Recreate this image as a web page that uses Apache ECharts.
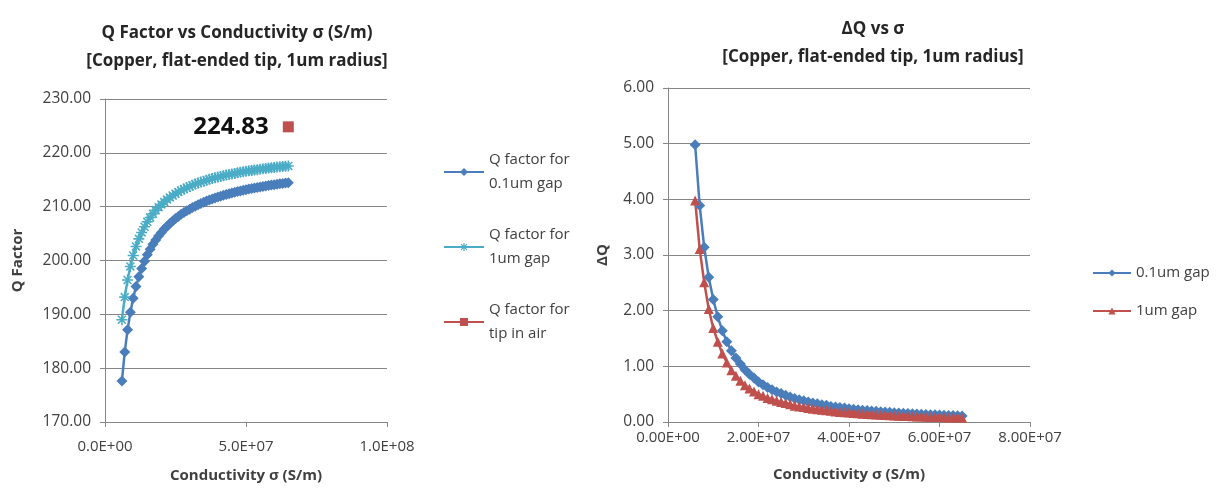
<!DOCTYPE html>
<html>
<head>
<meta charset="utf-8">
<script src="https://cdn.jsdelivr.net/npm/echarts@6/dist/echarts.min.js"></script>
<style>
  html, body { margin: 0; padding: 0; background: #fff; }
  #chart { width: 1227px; height: 488px; }
</style>
</head>
<body>
<div id="chart"></div>
<script>
// conductivity sweep (S/m), shared by both charts
const sigma = [6e6, 7e6, 8e6, 9e6, 10e6, 11e6, 12e6, 13e6, 14e6, 15e6,
    16e6, 17e6, 18e6, 19e6, 20e6, 21e6, 22e6, 23e6, 24e6, 25e6,
    26e6, 27e6, 28e6, 29e6, 30e6, 31e6, 32e6, 33e6, 34e6, 35e6,
    36e6, 37e6, 38e6, 39e6, 40e6, 41e6, 42e6, 43e6, 44e6, 45e6,
    46e6, 47e6, 48e6, 49e6, 50e6, 51e6, 52e6, 53e6, 54e6, 55e6,
    56e6, 57e6, 58e6, 59e6, 60e6, 61e6, 62e6, 63e6, 64e6, 65e6]

// left chart: Q factor
const qGap01 = [177.60, 183.01, 187.12, 190.37, 192.99, 195.16, 196.98, 198.53, 199.88, 201.05,
    202.08, 203.00, 203.82, 204.56, 205.22, 205.83, 206.38, 206.89, 207.36, 207.79,
    208.19, 208.57, 208.91, 209.24, 209.54, 209.83, 210.10, 210.35, 210.59, 210.81,
    211.03, 211.23, 211.42, 211.61, 211.78, 211.95, 212.10, 212.26, 212.40, 212.54,
    212.67, 212.80, 212.93, 213.04, 213.16, 213.27, 213.37, 213.47, 213.57, 213.67,
    213.76, 213.85, 213.93, 214.01, 214.09, 214.17, 214.25, 214.32, 214.39, 214.46]
const qGap1 = [189.00, 193.20, 196.38, 198.90, 200.93, 202.61, 204.02, 205.22, 206.27, 207.18,
    207.98, 208.69, 209.32, 209.90, 210.41, 210.88, 211.31, 211.70, 212.07, 212.40,
    212.71, 213.01, 213.27, 213.52, 213.76, 213.98, 214.19, 214.38, 214.57, 214.74,
    214.91, 215.07, 215.21, 215.36, 215.49, 215.62, 215.74, 215.87, 215.97, 216.08,
    216.18, 216.28, 216.38, 216.47, 216.56, 216.65, 216.73, 216.80, 216.88, 216.96,
    217.03, 217.10, 217.16, 217.22, 217.28, 217.35, 217.41, 217.46, 217.52, 217.57]
const airSigma = [6.5e7]
const qAir = [224.83]

// right chart: delta Q
const dqGap01 = [4.98, 3.89, 3.14, 2.60, 2.20, 1.89, 1.64, 1.44, 1.28, 1.15,
    1.04, 0.94, 0.86, 0.79, 0.72, 0.67, 0.62, 0.58, 0.54, 0.51,
    0.48, 0.45, 0.42, 0.40, 0.38, 0.36, 0.34, 0.33, 0.31, 0.30,
    0.28, 0.27, 0.26, 0.25, 0.24, 0.23, 0.22, 0.21, 0.205, 0.198,
    0.191, 0.185, 0.179, 0.173, 0.167, 0.162, 0.157, 0.152, 0.148, 0.144,
    0.140, 0.136, 0.132, 0.128, 0.125, 0.122, 0.119, 0.116, 0.113, 0.110]
const dqGap1 = [3.98, 3.11, 2.51, 2.03, 1.69, 1.44, 1.23, 1.07, 0.93, 0.83,
    0.74, 0.66, 0.60, 0.55, 0.50, 0.47, 0.43, 0.41, 0.38, 0.36,
    0.34, 0.32, 0.29, 0.28, 0.27, 0.25, 0.24, 0.23, 0.22, 0.21,
    0.20, 0.19, 0.18, 0.175, 0.17, 0.16, 0.155, 0.147, 0.144, 0.139,
    0.134, 0.13, 0.125, 0.121, 0.117, 0.113, 0.11, 0.106, 0.104, 0.101,
    0.098, 0.095, 0.092, 0.09, 0.088, 0.085, 0.083, 0.081, 0.079, 0.077]

const FONT = '"Open Sans", sans-serif'
const TEXT = '#404040'
const GRID = '#868686'
const BLUE = '#4A7EBB'
const AQUA = '#4BACC6'
const RED = '#C0504D'
const STAR = 'path://M4.3,0h1.4v10h-1.4z M0,4.3h10v1.4h-10z M0.9,1.9l1,-1l7.2,7.2l-1,1z M8.1,0.9l1,1l-7.2,7.2l-1,-1z'

function sci(v, d) {
    const parts = v.toExponential(d).toUpperCase().split('E')
    const e = parseInt(parts[1], 10)
    const a = Math.abs(e)
    return parts[0] + 'E' + (e < 0 ? '-' : '+') + (a < 10 ? '0' + a : a)
}

function pairs(xs, ys) {
    return xs.map((x, i) => [x, ys[i]])
}

function xAxis(gridIndex, max, interval, digits, nameGap, labelMargin) {
    return {
        type: 'value', gridIndex: gridIndex, min: 0, max: max, interval: interval,
        name: 'Conductivity σ (S/m)', nameLocation: 'middle', nameGap: nameGap,
        nameTextStyle: { fontFamily: FONT, fontSize: 15, fontWeight: 'bold', color: TEXT },
        axisLine: { lineStyle: { color: GRID } },
        axisTick: { show: true, length: 5, lineStyle: { color: GRID } },
        axisLabel: { fontFamily: FONT, fontSize: 15, color: TEXT, margin: labelMargin,
            formatter: v => sci(v, digits) },
        splitLine: { show: false }
    }
}

function yAxis(gridIndex, min, max, interval, name, nameGap) {
    return {
        type: 'value', gridIndex: gridIndex, min: min, max: max, interval: interval,
        name: name, nameLocation: 'middle', nameGap: nameGap, nameRotate: 90,
        nameTextStyle: { fontFamily: FONT, fontSize: 15, fontWeight: 'bold', color: TEXT },
        axisLine: { show: true, lineStyle: { color: GRID } },
        axisTick: { show: true, length: 5, lineStyle: { color: GRID } },
        axisLabel: { fontFamily: FONT, fontSize: 15.5, color: TEXT, margin: 14,
            formatter: v => v.toFixed(2) },
        splitLine: { show: true, lineStyle: { color: GRID, width: 1 } }
    }
}

const titleStyle = { fontFamily: FONT, fontSize: 17, fontWeight: 'bold', color: '#262626', lineHeight: 28 }

const option = {
    animation: false,
    backgroundColor: '#ffffff',
    title: [
        { text: 'Q Factor vs Conductivity σ (S/m)\n[Copper, flat-ended tip, 1um radius]',
          left: 237, top: 19, textAlign: 'center', padding: 0, textStyle: titleStyle },
        { text: 'ΔQ vs σ\n[Copper, flat-ended tip, 1um radius]',
          left: 873, top: 15, textAlign: 'center', padding: 0, textStyle: titleStyle }
    ],
    legend: [
        { orient: 'vertical', left: 443, top: 136, padding: 0, itemGap: 3,
          itemWidth: 40, itemHeight: 10,
          textStyle: { fontFamily: FONT, fontSize: 15, color: TEXT, lineHeight: 24, padding: [24, 0, 0, 0] },
          data: ['Q factor for\n0.1um gap', 'Q factor for\n1um gap', 'Q factor for\ntip in air'] },
        { orient: 'vertical', left: 1092, top: 264, padding: 0, itemGap: 20,
          itemWidth: 38, itemHeight: 9,
          textStyle: { fontFamily: FONT, fontSize: 15, color: TEXT, lineHeight: 18 },
          data: ['0.1um gap', '1um gap'] }
    ],
    grid: [
        { left: 105, top: 99, width: 282, height: 324 },
        { left: 668, top: 88, width: 362, height: 334 }
    ],
    xAxis: [
        xAxis(0, 1e8, 5e7, 1, 46, 17),
        xAxis(1, 8e7, 2e7, 2, 45, 8)
    ],
    yAxis: [
        yAxis(0, 170, 230, 10, 'Q Factor', 80),
        yAxis(1, 0, 6, 1, 'ΔQ', 58)
    ],
    series: [
        { name: 'Q factor for\n0.1um gap', type: 'line', xAxisIndex: 0, yAxisIndex: 0,
          data: pairs(sigma, qGap01), symbol: 'diamond', symbolSize: 11,
          itemStyle: { color: BLUE }, lineStyle: { color: BLUE, width: 2.5 } },
        { name: 'Q factor for\n1um gap', type: 'line', xAxisIndex: 0, yAxisIndex: 0,
          data: pairs(sigma, qGap1), symbol: STAR, symbolSize: 11,
          itemStyle: { color: AQUA }, lineStyle: { color: AQUA, width: 2.5 } },
        { name: 'Q factor for\ntip in air', type: 'line', xAxisIndex: 0, yAxisIndex: 0,
          data: pairs(airSigma, qAir), symbol: 'rect', symbolSize: 11,
          itemStyle: { color: RED }, lineStyle: { color: RED, width: 2.5 },
          label: { show: true, position: 'left', distance: 14, formatter: p => p.value[1].toFixed(2),
              fontFamily: FONT, fontSize: 24, fontWeight: 'bold', color: '#111' } },
        { name: '0.1um gap', type: 'line', xAxisIndex: 1, yAxisIndex: 1,
          data: pairs(sigma, dqGap01), symbol: 'diamond', symbolSize: 11,
          itemStyle: { color: BLUE }, lineStyle: { color: BLUE, width: 2.5 } },
        { name: '1um gap', type: 'line', xAxisIndex: 1, yAxisIndex: 1,
          data: pairs(sigma, dqGap1), symbol: 'triangle', symbolSize: 10,
          itemStyle: { color: RED }, lineStyle: { color: RED, width: 2.5 } }
    ]
}

const chart = echarts.init(document.getElementById('chart'), null, { renderer: 'canvas' })
chart.setOption(option)
</script>
</body>
</html>
